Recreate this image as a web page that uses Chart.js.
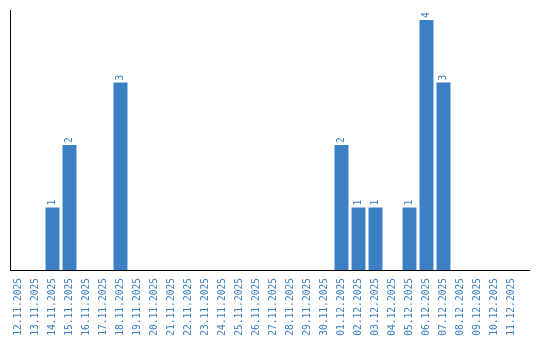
<!DOCTYPE html>
<html>
<head>
<meta charset="utf-8">
<script src="https://cdn.jsdelivr.net/npm/chart.js@4/dist/chart.umd.min.js"></script>
<style>
  html, body { margin: 0; padding: 0; background: #fff; }
  #wrap { width: 540px; height: 340px; }
</style>
</head>
<body>
<div id="wrap"><canvas id="c"></canvas></div>
<script>
const days = [
    '12.11.2025', '13.11.2025', '14.11.2025', '15.11.2025', '16.11.2025',
    '17.11.2025', '18.11.2025', '19.11.2025', '20.11.2025', '21.11.2025',
    '22.11.2025', '23.11.2025', '24.11.2025', '25.11.2025', '26.11.2025',
    '27.11.2025', '28.11.2025', '29.11.2025', '30.11.2025', '01.12.2025',
    '02.12.2025', '03.12.2025', '04.12.2025', '05.12.2025', '06.12.2025',
    '07.12.2025', '08.12.2025', '09.12.2025', '10.12.2025', '11.12.2025',
];
const counts = [
    0, 0, 1, 2, 0,
    0, 3, 0, 0, 0,
    0, 0, 0, 0, 0,
    0, 0, 0, 0, 2,
    1, 1, 0, 1, 4,
    3, 0, 0, 0, 0,
];

const blue = '#3b7fc4';
const font = '"DejaVu Sans Mono", monospace';

// value labels drawn vertically above each non-empty bar,
// and the x axis line which runs a bit past the last category
const barValues = {
    id: 'barValues',
    afterDatasetsDraw(chart) {
        const ctx = chart.ctx;
        const area = chart.chartArea;
        const meta = chart.getDatasetMeta(0);
        ctx.save();
        ctx.strokeStyle = '#000';
        ctx.lineWidth = 1;
        ctx.beginPath();
        ctx.moveTo(area.left, Math.round(area.bottom) + 0.5);
        ctx.lineTo(area.right + 10, Math.round(area.bottom) + 0.5);
        ctx.stroke();

        ctx.fillStyle = blue;
        ctx.font = '9.6px ' + font;
        ctx.textAlign = 'left';
        ctx.textBaseline = 'middle';
        meta.data.forEach((bar, i) => {
            if (!counts[i]) {
                return;
            }
            ctx.save();
            ctx.translate(bar.x, bar.y - 2);
            ctx.rotate(-Math.PI / 2);
            ctx.fillText(String(counts[i]), 0, 0);
            ctx.restore();
        });
        ctx.restore();
    },
};

new Chart(document.getElementById('c'), {
    type: 'bar',
    data: {
        labels: days,
        datasets: [{
            data: counts,
            backgroundColor: blue,
            barPercentage: 0.82,
            categoryPercentage: 1,
        }],
    },
    options: {
        responsive: true,
        maintainAspectRatio: false,
        animation: false,
        layout: { padding: { left: 10, top: 10, right: 20, bottom: 0 } },
        plugins: {
            legend: { display: false },
            tooltip: { enabled: false },
        },
        scales: {
            x: {
                grid: { display: false },
                border: { display: false },
                afterFit: (s) => { s.height = 70; },
                ticks: {
                    color: blue,
                    font: { family: font, size: 9.6 },
                    minRotation: 90,
                    maxRotation: 90,
                    autoSkip: false,
                    padding: 0,
                },
            },
            y: {
                beginAtZero: true,
                max: 4.16,
                grid: { display: false },
                border: { display: true, color: '#000', width: 1 },
                afterFit: (s) => { s.width = 0; },
                ticks: { display: false },
            },
        },
    },
    plugins: [barValues],
});
</script>
</body>
</html>
